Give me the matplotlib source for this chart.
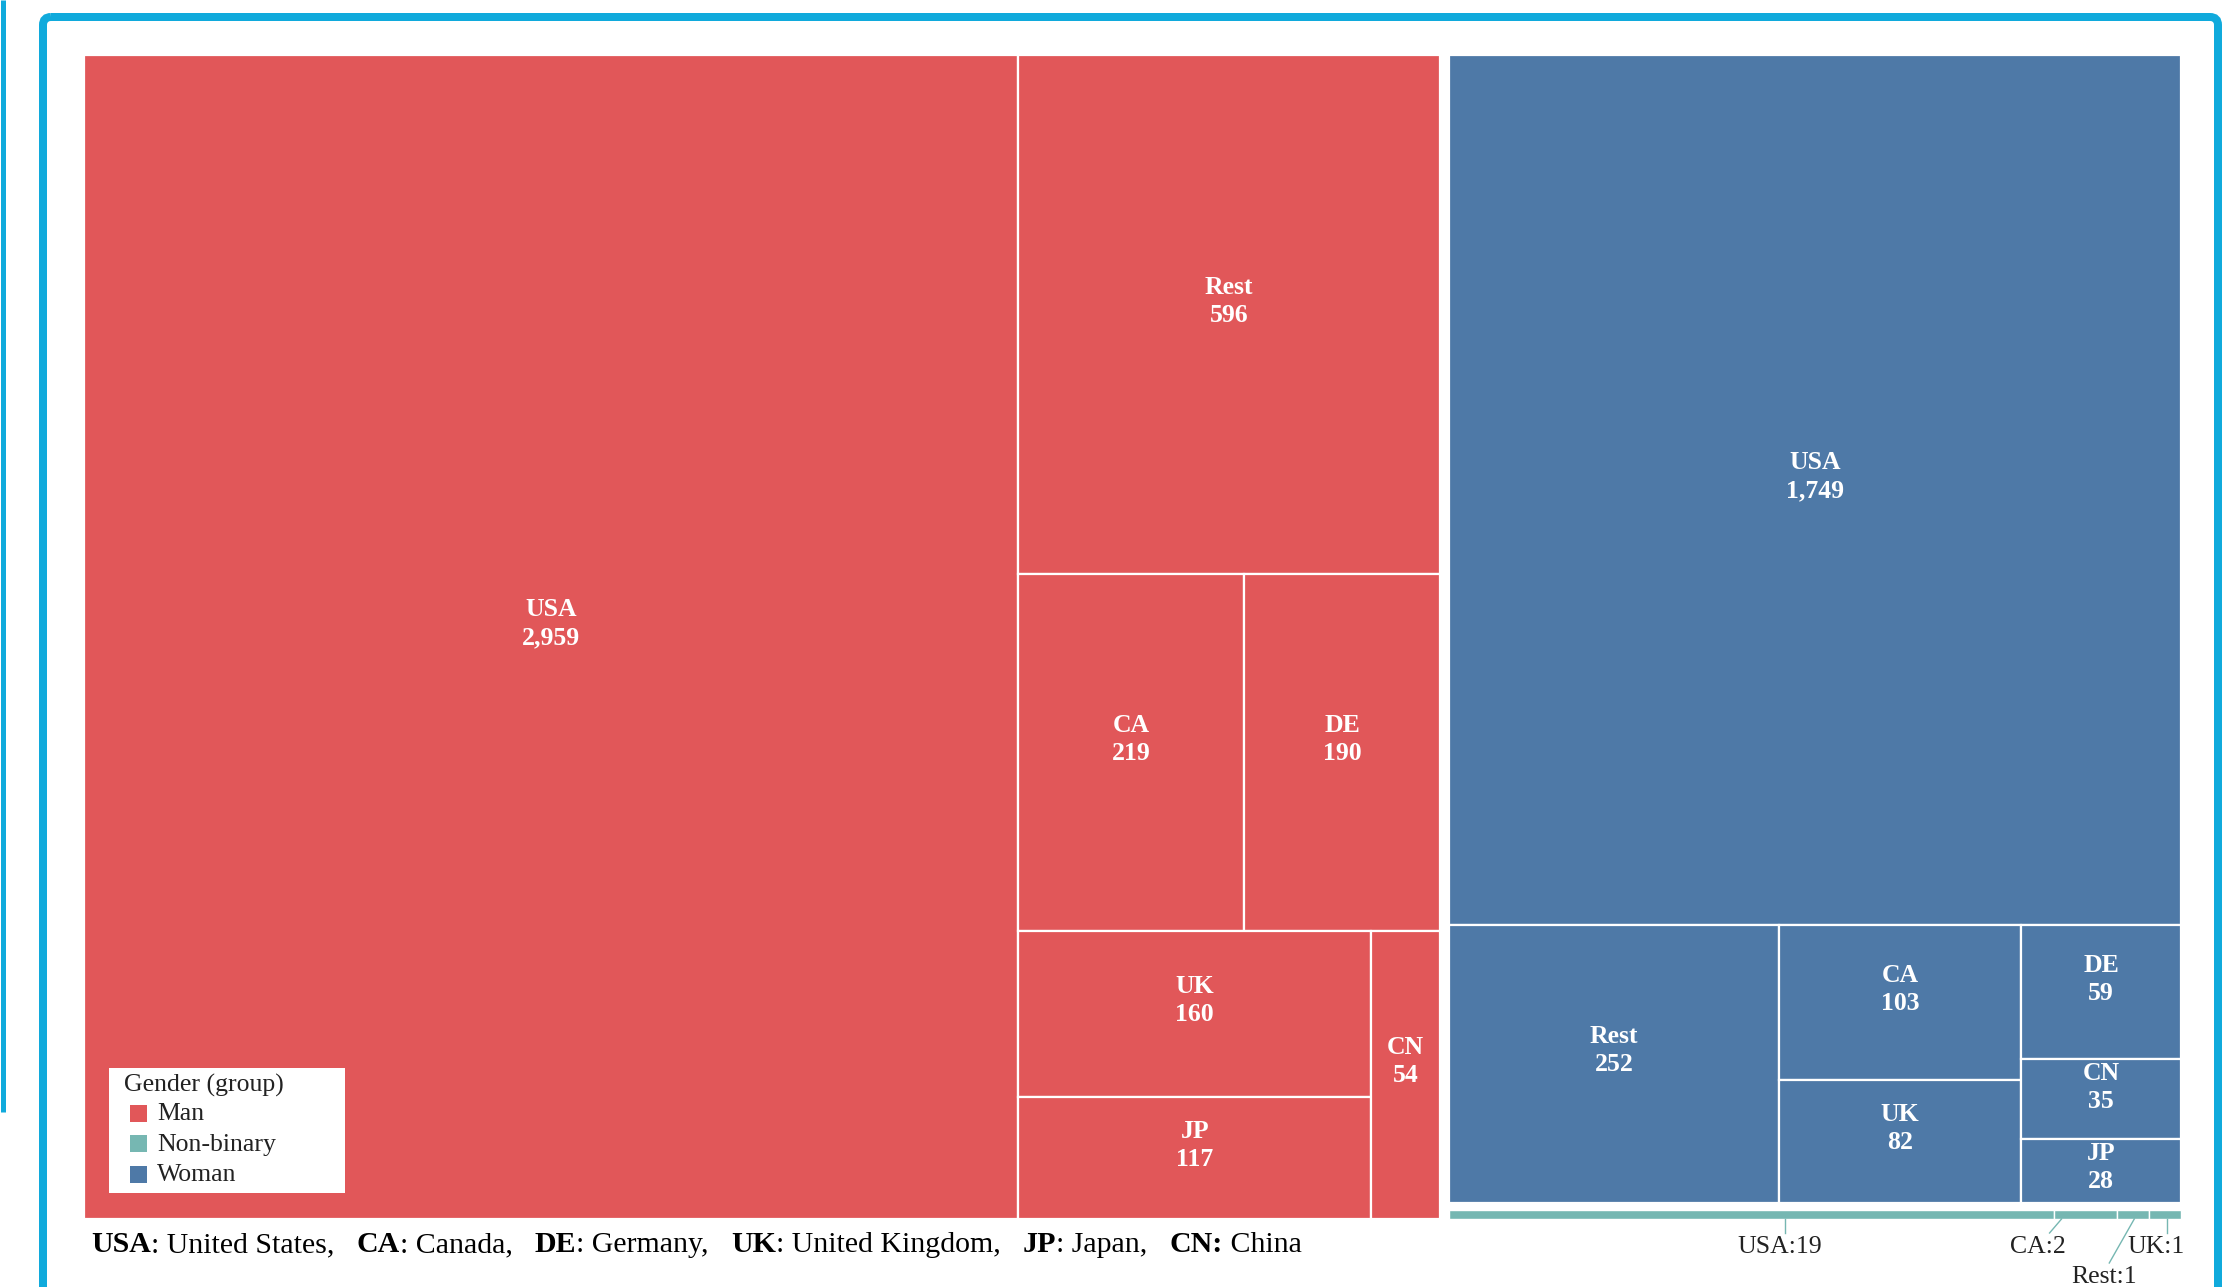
import matplotlib
matplotlib.use("Agg")
import matplotlib.pyplot as plt
from matplotlib.patches import Rectangle, FancyBboxPatch

# donnees : nombre de repondants par genre et par pays
man_countries = ["USA", "Rest", "CA", "DE", "UK", "JP", "CN"]
man_counts = [2959, 596, 219, 190, 160, 117, 54]
woman_countries = ["USA", "Rest", "CA", "UK", "DE", "CN", "JP"]
woman_counts = [1749, 252, 103, 82, 59, 35, 28]
nb_countries = ["USA", "CA", "Rest", "UK"]
nb_counts = [19, 2, 1, 1]

groups = ["Man", "Woman", "Non-binary"]
legend_order = ["Man", "Non-binary", "Woman"]
colors = {"Man": "#E15759", "Woman": "#4E79A7", "Non-binary": "#76B7B2"}
caption = [("USA", True), (": United States,", False), ("CA", True), (": Canada,", False),
           ("DE", True), (": Germany,", False), ("UK", True), (": United Kingdom,", False),
           ("JP", True), (": Japan,", False), ("CN:", True), (" China", False)]

PHI = (1 + 5 ** 0.5) / 2


# squarify facon d3 (ratio = nombre d'or)
def squarify(values, x0, y0, x1, y1, ratio=PHI):
    rects = [None] * len(values)
    value = float(sum(values))
    n = len(values)
    i0 = i1 = 0
    while i0 < n:
        dx, dy = x1 - x0, y1 - y0
        s = values[i1]
        i1 += 1
        vmin = vmax = s
        alpha = max(dy / dx, dx / dy) / (value * ratio)
        beta = s * s * alpha
        min_ratio = max(vmax / beta, beta / vmin)
        while i1 < n:
            v = values[i1]
            s += v
            vmin = min(vmin, v)
            vmax = max(vmax, v)
            beta = s * s * alpha
            new_ratio = max(vmax / beta, beta / vmin)
            if new_ratio > min_ratio:
                s -= v
                break
            min_ratio = new_ratio
            i1 += 1
        if dx < dy:
            yb = y0 + dy * s / value
            xx = x0
            for k in range(i0, i1):
                w = dx * values[k] / s
                rects[k] = (xx, y0, xx + w, yb)
                xx += w
            y0 = yb
        else:
            xb = x0 + dx * s / value
            yy = y0
            for k in range(i0, i1):
                h = dy * values[k] / s
                rects[k] = (x0, yy, xb, yy + h)
                yy += h
            x0 = xb
        value -= s
        i0 = i1
    return rects


W, H = 2232, 1287
fig = plt.figure(figsize=(W / 100, H / 100), dpi=100)
ax = fig.add_axes([0, 0, 1, 1])
ax.set_xlim(0, W)
ax.set_ylim(H, 0)
ax.axis("off")

serif = "Liberation Serif"
px = 72 / 100  # pixels -> points

# zone du treemap
X0, Y0, X1, Y1 = 84, 55, 2181, 1219
gap = 9
min_thick, gap_small = 9, 7
data = {"Man": (man_countries, man_counts),
        "Woman": (woman_countries, woman_counts),
        "Non-binary": (nb_countries, nb_counts)}
totals = [sum(data[g][1]) for g in groups]
top = squarify(totals, X0 - gap / 2, Y0 - gap / 2, X1 + gap / 2, Y1 + gap / 2)
grect = {}
for g, r in zip(groups, top):
    grect[g] = [r[0] + gap / 2, r[1] + gap / 2, r[2] - gap / 2, r[3] - gap / 2]
# bande non-binaire trop fine : epaisseur minimale
nb = grect["Non-binary"]
nb[1] = nb[3] - min_thick
grect["Woman"][3] = nb[1] - gap_small

tiles = {}
for g in groups:
    gx0, gy0, gx1, gy1 = grect[g]
    names, vals = data[g]
    sub = squarify(vals, gx0, gy0, gx1, gy1)
    tiles[g] = sub
    lw = 1.0 if g == "Non-binary" else 1.6
    for rr in sub:
        ax.add_patch(Rectangle((rr[0], rr[1]), rr[2] - rr[0], rr[3] - rr[1],
                               facecolor=colors[g], edgecolor="white", linewidth=lw))
    if g == "Non-binary":
        continue
    for name, v, rr in zip(names, vals, sub):
        cx = (rr[0] + rr[2]) / 2
        cy = (rr[1] + rr[3]) / 2
        top_txt = max(cy - 15 - 22.5, rr[1] + 4)
        ax.text(cx, top_txt + 17, name, ha="center", va="baseline", color="white",
                fontsize=18.5, fontweight="bold", family=serif)
        ax.text(cx, top_txt + 45, f"{v:,}", ha="center", va="baseline", color="white",
                fontsize=18.5, fontweight="bold", family=serif)

# etiquettes externes non-binaire
nb_line_dx = [34, -24, 1, 2]
nb_text_dx = [28, -48, -29, -9]
nb_base = [1253, 1253, 1283, 1253]
for name, v, rr, ldx, tdx, yb in zip(nb_countries, nb_counts, tiles["Non-binary"],
                                     nb_line_dx, nb_text_dx, nb_base):
    cx = (rr[0] + rr[2]) / 2
    if name == "Rest":
        xe = cx + tdx + 5
    else:
        xe = cx + (ldx + tdx) / 2 if name == "CA" else cx + ldx
    ax.plot([cx + ldx, xe], [rr[3], yb - 20], color=colors["Non-binary"], lw=1.0)
    ax.text(cx + tdx, yb, f"{name}:{v}", ha="center", va="baseline", color="#222222",
            fontsize=18.5, family=serif)

# legende
ax.add_patch(Rectangle((109, 1068), 236, 125, facecolor="white", edgecolor="none", zorder=3))
ax.text(124, 1092, "Gender (group)", fontsize=18.5, family=serif, color="#222222",
        va="baseline", zorder=4)
for i, g in enumerate(legend_order):
    yc = 1113 + i * 30.5
    ax.add_patch(Rectangle((130, yc - 8.5), 17, 17, facecolor=colors[g], edgecolor="none", zorder=4))
    ax.text(157, yc + 7, g, fontsize=18.5, family=serif, color="#222222", va="baseline", zorder=4)

# legende des pays en bas
prev = ax.text(91, 1252, caption[0][0], fontsize=21.5, family=serif, fontweight="bold",
               va="baseline", color="black")
for txt, bold in caption[1:]:
    prev = ax.annotate(txt, xy=(1, 0), xycoords=prev, xytext=(16 if bold else 0, 0),
                       textcoords="offset points", va="bottom", ha="left",
                       fontsize=21.5, family=serif, fontweight="bold" if bold else "normal",
                       color="black")

# cadre bleu
ax.add_patch(FancyBboxPatch((43, 17), 2218 - 43, 1400, boxstyle="round,pad=0,rounding_size=8",
                            fill=False, edgecolor="#10AADC", linewidth=8 * px))
ax.plot([2.5, 2.5], [0, 1112], color="#10AADC", linewidth=5 * px, solid_capstyle="butt")

plt.savefig("out.png", dpi=100)
